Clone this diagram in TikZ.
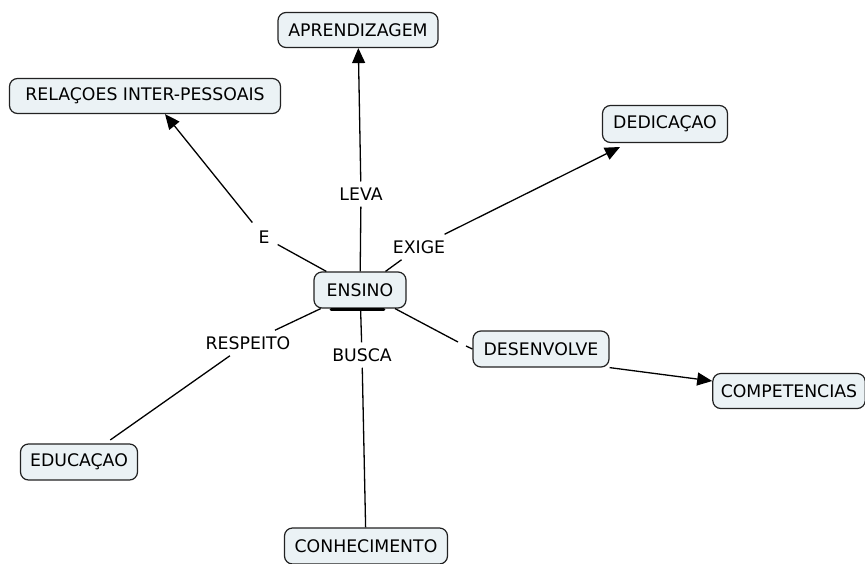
\documentclass[tikz,border=0pt]{standalone}
\usepackage{fontspec}
\setmainfont{DejaVu Sans}
\usetikzlibrary{arrows.meta}
\definecolor{conceptfill}{HTML}{EBF2F5}
\definecolor{edgegray}{HTML}{222222}
\begin{document}
\begin{tikzpicture}[x=1pt,y=-1pt,
  concept/.style={draw=edgegray, line width=1.2pt, fill=conceptfill, rounded corners=8pt,
    font=\fontsize{17.3}{20}\selectfont, inner xsep=8pt, minimum height=35pt},
  linkword/.style={font=\fontsize{17.3}{20}\selectfont, inner sep=6pt},
  link/.style={line width=1.3pt, draw=black},
  arr/.style={link, -{Triangle[length=15pt,width=13pt]}}]
\useasboundingbox (0,0) rectangle (865,563);

% concepts
\node[concept, minimum width=160pt] (aprend) at (358,30) {APRENDIZAGEM};
\node[concept, minimum width=271pt] (relacoes) at (145,96) {RELAÇOES INTER-PESSOAIS};
\node[concept, minimum width=125pt, minimum height=37pt] (dedic) at (665,124) {DEDICAÇAO};
\node[concept, minimum width=92pt, minimum height=36pt] (ensino) at (360,290) {ENSINO};
\node[concept, minimum width=136pt, minimum height=36pt] (desenv) at (541,349) {DESENVOLVE};
\node[concept, minimum width=152pt] (compet) at (789,391) {COMPETENCIAS};
\node[concept, minimum width=117pt, minimum height=36pt] (educ) at (79,462) {EDUCAÇAO};
\node[concept, minimum width=163pt, minimum height=36pt] (conhec) at (366,546) {CONHECIMENTO};

% heavy lower edge under ENSINO
\draw[line width=2.6pt, line cap=round] (331,309.5) -- (384,309.5);

% linking words
\node[linkword] (leva) at (361,194) {LEVA};
\node[linkword, inner sep=8pt] (e) at (264,237) {E};
\node[linkword] (exige) at (419,247) {EXIGE};
\node[linkword] (respeito) at (248,343) {RESPEITO};
\node[linkword] (busca) at (362,355) {BUSCA};

% break points of the ENSINO - DESENVOLVE link
\coordinate (d1) at (458,342);
\coordinate (d2) at (466,346);

% links
\draw[link] (ensino) -- (leva);
\draw[arr] (leva) -- (aprend);

\draw[link] (ensino) -- (e);
\draw[arr] (e) -- (relacoes.south -| 165,0);

\draw[link] (ensino) -- (exige);
\draw[arr] (exige) -- (620,147);

\draw[link] (ensino) -- (respeito);
\draw[link, shorten >=6pt] (respeito) -- (educ);

\draw[link] (ensino) -- (busca);
\draw[link] (busca) -- (conhec);

\draw[link] (ensino) -- (d1);
\draw[link] (d2) -- (desenv.west);
\draw[arr] (desenv.south east) -- (compet);
\end{tikzpicture}
\end{document}
